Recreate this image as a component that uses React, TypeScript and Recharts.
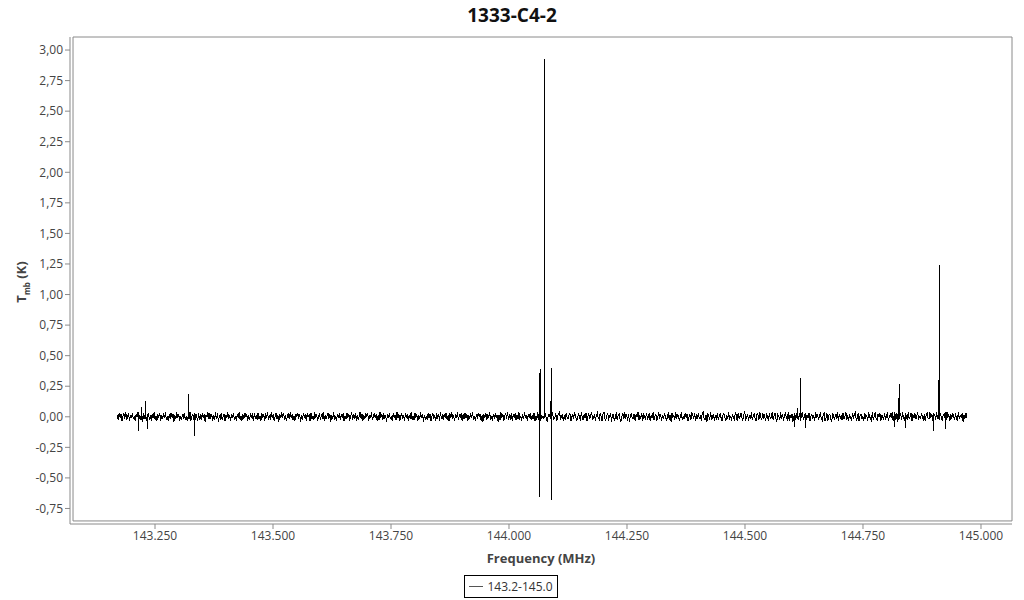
import React from "react";
import {
  LineChart,
  Line,
  XAxis,
  YAxis,
  ReferenceArea,
  Legend,
} from "recharts";

// spectrum channels, 143.17 - 144.97 MHz, baseline noise (mK)
const freqStart = 143.17;
const freqEnd = 144.97;
const noiseMk = [
  12, -25, 31, -8, 19, -34, 5, 27, -16, 38, -29, 3, 22, -37, 14, -11, 33, -20, 8, -31, 25, -4, 36, -18, 10,
  -27, 17, -39, 29, -6, 21, -35, 13, 34, -22, 1, -30, 26, -13, 39, -24, 7, -33, 18, -2, 30, -38, 15, -19, 28,
  -9, 35, -26, 4, -36, 23, -15, 32, -5, 20, -40, 11, -21, 37, -12, 26, -32, 9, -28, 16, -3, 33, -23, 6, -37,
  24, -14, 38, -30, 2, 19, -25, 34, -8, 13, -36, 27, -17, 5, -29, 31, -10, 22, -39, 14, -1, 36, -21, 29, -7,
  18, -33, 10, -24, 35, -15, 28, -38, 7, -12, 32, -27, 3, 25, -34, 16, -6, 39, -20, 11, -31, 21, -9, 30, -26,
  8, -35, 26, -11, 37, -23, 4, -30, 19, -16, 34, -5, 23, -38, 12, -28, 31, -2, 17, -36, 27, -14, 9, -25, 33,
  -19, 6, -32, 29, -10, 21, -37, 15, -4, 38, -27, 13, -22, 35, -8, 24, -33, 1, 28, -17, 10, -39, 20, -13, 36,
  -6, 31, -24, 14, -34, 3, 26, -20, 37, -11, 18, -29, 7, -36, 25, -3, 32, -15, 22, -40, 12, -26, 34, -9, 19,
  -30, 27, -1, 16, -37, 30, -18, 8, -28, 35, -12, 21, -35, 2, 29, -23, 13, -7, 38, -31, 17, -21, 5, 33, -16,
  23, -39, 11, -14, 36, -26, 4, -33, 20, -8, 31, -22, 15, -3, 27, -37, 9, -19, 34, -11, 25, -30, 1, 37, -24,
  14, -5, 30, -36, 18, -27, 7, 39, -15, 22, -32, 10, -20, 33, -2, 26, -38, 16, -9, 35, -25, 3, 28, -13, 21,
  -34, 12, -23, 37, -7, 19, -29, 31, -17, 5, -38, 24, -10, 32, -21, 8, -35, 27, -4, 15, -26, 36, -12, 20, -31,
  2, 34, -19, 11, -37, 28, -6, 23, -33, 17, -14, 38, -24, 6, -29, 30, -1, 21, -36, 13, -18, 35, -8, 26, -39,
  16, -28, 9, -22, 33, -11, 25, -35, 4, 31, -20, 14, -38, 29, -5, 18, -31, 37, -15, 7, -27, 22, -2, 34, -23,
  10, -36, 27, -13, 39, -19, 3, -32, 24, -9, 36, -25, 12, -4, 30, -34, 19, -16, 28, -7, 21, -37, 15, -21, 32,
  -12, 37, -29, 6, -35, 22, -17, 34, -3, 26, -30, 11, -39, 20, -8, 33, -26, 14, -1, 38, -22, 8, -33, 25, -14,
  29, -6, 17, -38, 13, -24, 35, -10, 24, -32, 5, 30, -18, 37, -27, 9, -13, 31, -35, 18, -4, 27, -29, 12, -20,
  36, -15, 4, -31, 26, -21, 39, -9, 15, -36, 22, -1, 33, -26, 10, -19, 28, -34, 6, -23, 35, -11, 19, -30, 8,
  5, -18, 27, 33, -12, -40, 8, 21, -3, -29, 36, 14, -22, -9, 31, -35, 2, 25, 40, -17, -6, 19, -31, 11, -26,
  34, -8, -21, 16, 29, -37, -4, 23, -14, 38, 7, -30, -19, 26, 12, -33, 35, -2, -25, 18, -11, 30, -38, 3, 22,
  -16, 9, 37, -27, -5, 24, -36, 15, 31, -10, -23, 28, 1, -34, 20, 39, -13, -28, 6, 33, -20, -1, 27, -39, 14,
  18, -32, -7, 35, -24, 10, 26, -15, -37, 4, 29, -21, 36, -6, 13, -30, 22, -40, 8, 32, -18, -11, 25, -35, 17,
  -3, 38, -26, 11, -12, 30, -33, 19, 5, -28, 34, -16, -2, 27, -38, 15, -9, 36, -23, 7, 21, -31, 1, 37, -14,
  24, -36, 13, -19, 32, 6, -27, -10, 35, -22, 17, -39, 28, -4, 10, -25, 39, -17, 23, -8, -33, 16, 31, -29, 2,
  -20, 33, -11, 26, -34, -1, 18, -26, 38, 9, -15, 29, -37, 14, -5, 31, -21, 4, -30, 25, 36, -12, -24, 11, -39,
  28, -2, -18, 37, -29, 12, 20, -35, 7, -13, 34, -23, 3, 30, -10, -36, 17, 26, -7, -32, 15, -19, 39, -27, 8,
  -30, 21, -5, -24, 35, 13, -38, 27, -15, 2, 32, -9, -27, 19, 38, -20, -3, 24, -34, 10, -16, 36, -26, 5, 29,
  -12, -35, 26, 14, -28, 39, -8, -21, 33, -1, 17, -37, 22, 8, -31, 28, -13, -4, 35, -25, 11, 31, -18, -38, 20,
  3, -26, 36, -15, 23, -33, 9, 29, -7, -22, 38, -30, 15, -11, 26, -39, 6, 20, -28, 33, -2, -17, 27, -35, 12,
  37, -20, -6, 31, -27, 16, -12, 34, -36, 1, 25, -19, 10, -32, 39, -9, 21, -24, 4, 35, -14, -29, 18, 30, -37,
  -7, 27, -31, 12, 22, -18, -39, 32, 6, -25, 15, -3, 36, -34, 24, -11, 9, -28, 33, -16, -1, 38, -23, 13, -30,
  21, -10, -35, 28, -4, 19, 37, -26, -13, 33, -38, 8, 25, -21, 2, -30, 30, -6, 16, -36, 27, 12, -19, -33, 35,
  -24, 6, 39, -14, -29, 23, -2, 31, -37, 17, -8, -20, 34, -27, 11, 28, -35, -1, 22, -12, 37, -31, 5, 19, -22,
  30, -39, 14, -9, 26, -23, 35, -5, -32, 20, 7, -26, 38, -15, -3, 32, -36, 18, -10, 27, -21, 3, 36, -28, 9,
  -17, 34, -1, -30, 24, -38, 13, 29, -11, -19, 36, -7, 21, -34, 4, 25, -27, 39, -14, 8, -24, 31, -4, -37, 16,
  26, -13, -28, 38, -6, 15, -35, 22, -18, 33, 1, -26, 28, -9, -33, 37, -20, 10, -3, 29, -39, 18, -15, 32, -10,
];

// narrow lines: frequency (MHz), top and bottom of each spike (K)
const spikeFreq = [
  143.216, 143.222, 143.229, 143.235, 143.32, 143.333, 144.064, 144.066, 144.076, 144.087, 144.089,
  144.604, 144.611, 144.617, 144.629, 144.816, 144.826, 144.828, 144.839, 144.9, 144.911, 144.913, 144.924,
];
const spikeHigh = [
  0.02, 0.08, 0.13, 0.02, 0.19, 0.03, 0.36, 0.39, 2.93, 0.13, 0.4,
  0.03, 0.07, 0.32, 0.03, 0.04, 0.15, 0.27, 0.03, 0.03, 0.3, 1.24, 0.04,
];
const spikeLow = [
  -0.12, -0.02, -0.02, -0.1, -0.02, -0.16, -0.66, -0.02, -0.01, -0.02, -0.68,
  -0.08, -0.02, -0.02, -0.09, -0.08, -0.02, -0.02, -0.09, -0.12, -0.02, -0.02, -0.1,
];

const xTicks = [143.25, 143.5, 143.75, 144, 144.25, 144.5, 144.75, 145];
const yTicks = [-0.75, -0.5, -0.25, 0, 0.25, 0.5, 0.75, 1, 1.25, 1.5, 1.75, 2, 2.25, 2.5, 2.75, 3];
const seriesName = "143.2-145.0";

const X_DOMAIN: [number, number] = [143.0699, 145.0657];
const Y_DOMAIN: [number, number] = [-0.877, 3.1066];

const noisePoints = noiseMk.map((v, i) => ({
  freq: freqStart + (i * (freqEnd - freqStart)) / (noiseMk.length - 1),
  tmb: v / 1000,
}));
// each spike rises from the baseline and drops back at the same channel
const spikePoints = spikeFreq.flatMap((f, i) => [
  { freq: f, tmb: 0 },
  { freq: f, tmb: spikeHigh[i] },
  { freq: f, tmb: spikeLow[i] },
  { freq: f, tmb: 0 },
]);
const data = [...noisePoints, ...spikePoints].sort((a, b) => a.freq - b.freq);

const tickStyle = { fill: "#444", fontSize: 12, fontFamily: "Open Sans" };

function LegendBox({ payload }: any) {
  const item = payload && payload[0];
  return (
    <div style={{ textAlign: "center", fontFamily: "Open Sans" }}>
      <div
        style={{
          display: "inline-flex",
          alignItems: "center",
          border: "1px solid #000",
          height: 21,
          padding: "0 4px",
          fontSize: 12,
          color: "#333",
          boxSizing: "content-box",
        }}
      >
        <span style={{ display: "inline-block", width: 14, height: 1, background: "#555", marginRight: 4 }} />
        {item ? item.value : seriesName}
      </div>
    </div>
  );
}

export default function App() {
  return (
    <div style={{ position: "absolute", left: 0, top: 0, width: 1024, height: 600, background: "#fff" }}>
      <div
        style={{
          position: "absolute",
          top: 2,
          left: 0,
          width: 1024,
          textAlign: "center",
          fontFamily: "Open Sans",
          fontWeight: 700,
          fontSize: 19,
          color: "#111",
        }}
      >
        1333-C4-2
      </div>
      <div
        style={{
          position: "absolute",
          left: 22,
          top: 282,
          transform: "translate(-50%, -50%) rotate(-90deg)",
          fontFamily: "Open Sans",
          fontWeight: 700,
          fontSize: 13,
          color: "#444",
          whiteSpace: "nowrap",
        }}
      >
        T<sub style={{ fontSize: 8 }}>mb</sub> (K)
      </div>
      <LineChart
        width={1024}
        height={600}
        data={data}
        margin={{ top: 37, right: 12, left: 10, bottom: 2 }}
        style={{ fontFamily: "Open Sans" }}
      >
        <ReferenceArea
          x1={143.0763}
          x2={X_DOMAIN[1]}
          y1={-0.852}
          y2={Y_DOMAIN[1]}
          fill="none"
          stroke="#8a8a8a"
          strokeWidth={1}
          ifOverflow="visible"
        />
        <XAxis
          dataKey="freq"
          type="number"
          domain={X_DOMAIN}
          ticks={xTicks}
          allowDataOverflow
          height={46}
          tick={tickStyle}
          tickSize={5}
          tickFormatter={(v: number) => v.toFixed(3)}
          axisLine={{ stroke: "#8a8a8a" }}
          tickLine={{ stroke: "#8a8a8a" }}
          label={{
            value: "Frequency (MHz)",
            position: "insideBottom",
            offset: 7,
            style: { fill: "#444", fontSize: 13, fontWeight: 700, fontFamily: "Open Sans" },
          }}
        />
        <YAxis
          type="number"
          domain={Y_DOMAIN}
          ticks={yTicks}
          allowDataOverflow
          width={60}
          tick={tickStyle}
          tickSize={5}
          tickFormatter={(v: number) => v.toFixed(2).replace(".", ",")}
          axisLine={{ stroke: "#8a8a8a" }}
          tickLine={{ stroke: "#8a8a8a" }}
        />
        <Legend verticalAlign="bottom" content={<LegendBox />} />
        <Line
          dataKey="tmb"
          name={seriesName}
          type="linear"
          stroke="#000"
          strokeWidth={1}
          shapeRendering="crispEdges"
          dot={false}
          isAnimationActive={false}
        />
      </LineChart>
    </div>
  );
}
